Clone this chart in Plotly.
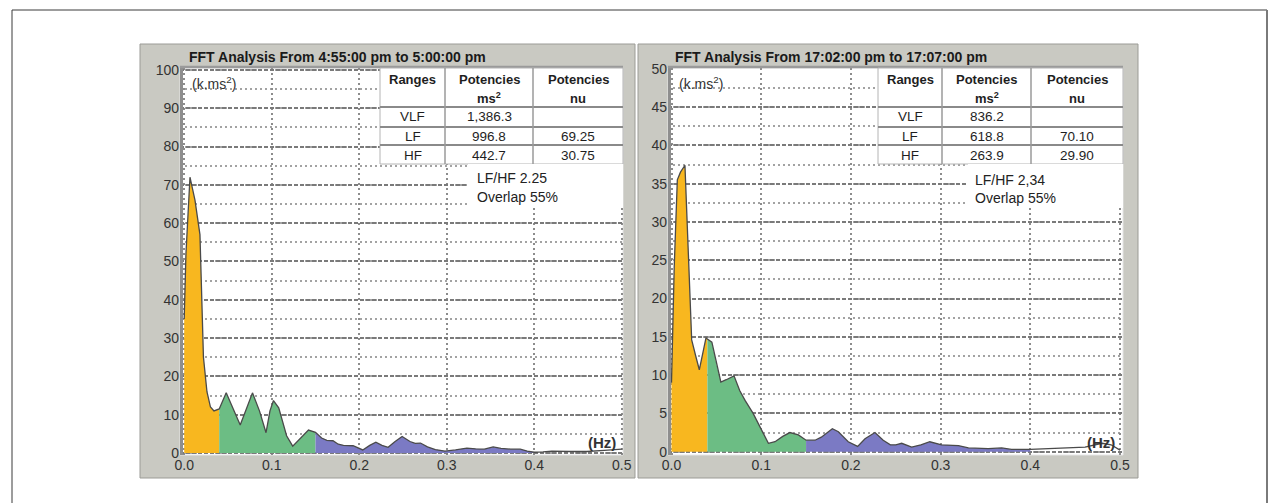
import plotly.graph_objects as go

# ---------------- data ----------------
# Left panel: 4:55:00 pm - 5:00:00 pm
freq_left = [0.000, 0.002, 0.0066, 0.0123, 0.018, 0.022, 0.026, 0.030, 0.034, 0.040,
             0.048, 0.056, 0.064, 0.071, 0.078, 0.086, 0.0935, 0.098, 0.102, 0.108,
             0.117, 0.124, 0.133, 0.142, 0.150,
             0.157, 0.163, 0.170, 0.176, 0.182, 0.193, 0.199, 0.204, 0.212, 0.219,
             0.226, 0.233, 0.241, 0.249, 0.258, 0.264, 0.270, 0.278, 0.287, 0.298,
             0.310, 0.323, 0.333, 0.343, 0.353, 0.362, 0.373, 0.384, 0.392, 0.400,
             0.410, 0.420, 0.440, 0.460, 0.480, 0.500]
power_left = [35.0, 52.0, 72.0, 66.0, 57.0, 25.0, 16.0, 12.0, 11.0, 11.5,
              15.7, 11.5, 7.3, 11.5, 15.7, 11.0, 5.3, 11.0, 13.7, 11.8,
              4.5, 1.8, 3.8, 6.0, 5.4,
              3.9, 3.3, 3.2, 2.3, 2.0, 1.9, 1.4, 0.8, 2.0, 2.8,
              2.0, 1.5, 3.0, 4.3, 3.0, 2.5, 2.6, 1.6, 0.9, 0.5,
              0.8, 1.3, 1.1, 1.0, 1.6, 1.2, 1.0, 1.0, 0.5, 0.2,
              0.3, 0.5, 0.4, 0.4, 0.7, 1.0]

# Right panel: 17:02:00 pm - 17:07:00 pm
freq_right = [0.000, 0.003, 0.0065, 0.010, 0.015, 0.0176, 0.0225, 0.027, 0.031, 0.0385, 0.040,
              0.045, 0.050, 0.055, 0.061, 0.0697, 0.076, 0.082, 0.091, 0.1005, 0.108,
              0.1154, 0.124, 0.132, 0.1414, 0.150,
              0.160, 0.167, 0.1793, 0.186, 0.197, 0.2075, 0.2157, 0.2268, 0.236, 0.244,
              0.250, 0.2566, 0.2677, 0.278, 0.288, 0.301, 0.3198, 0.331, 0.353, 0.368,
              0.379, 0.400,
              0.424, 0.461, 0.480, 0.490, 0.500]
power_right = [9.0, 24.0, 35.5, 36.5, 37.4, 29.0, 14.6, 12.5, 10.7, 14.9, 14.7,
               14.3, 11.5, 9.1, 9.4, 9.9, 8.0, 6.7, 5.0, 2.8, 1.1,
               1.3, 2.0, 2.5, 2.2, 1.5,
               1.5, 1.9, 3.0, 2.6, 1.3, 0.7, 1.7, 2.5, 1.5, 0.9,
               0.9, 1.1, 0.6, 0.9, 1.3, 0.9, 0.8, 0.5, 0.4, 0.5,
               0.3, 0.3,
               0.45, 0.6, 1.1, 0.9, 0.2]

band_edges = [0.0, 0.04, 0.15, 0.40]          # VLF | LF | HF
band_names = ["VLF", "LF", "HF"]
band_colors = ["#f8b71f", "#6cbd84", "#7b7ac4"]

titles = ["FFT Analysis From 4:55:00 pm to 5:00:00 pm",
          "FFT Analysis From 17:02:00 pm to 17:07:00 pm"]
ratio_texts = ["LF/HF 2.25", "LF/HF 2,34"]
overlap_text = "Overlap 55%"

table_header = [["Ranges", ""], ["Potencies", "ms<sup>2</sup>"], ["Potencies", "nu"]]
ranges = ["VLF", "LF", "HF"]
ms2_left = ["1,386.3", "996.8", "442.7"]
nu_left = ["", "69.25", "30.75"]
ms2_right = ["836.2", "618.8", "263.9"]
nu_right = ["", "70.10", "29.90"]

y_ticks_left = [0, 10, 20, 30, 40, 50, 60, 70, 80, 90, 100]
y_ticks_right = [0, 5, 10, 15, 20, 25, 30, 35, 40, 45, 50]
x_ticks = [0.0, 0.1, 0.2, 0.3, 0.4, 0.5]

# ---------------- layout helpers ----------------
W, H = 1269, 503
FONT = "Liberation Sans, Arial, sans-serif"


def px(x):
    return x / W


def py(y):
    return 1 - y / H


fig = go.Figure()

panels = [
    dict(freq=freq_left, power=power_left, xa="x", ya="y",
         plot=(180, 68, 623, 455), frame=(140, 44, 635, 478),
         xr=[-0.0048, 0.5014], yr=[-0.52, 100.5], ydt=10,
         yticks=y_ticks_left, title_x=187,
         tcols=[380, 445, 533, 623], ms2=ms2_left, nu=nu_left,
         ratio_x=475, ratio_y=(178, 197), wbox=(468, 164, 623, 208),
         unit_x=190, hz_x=618),
    dict(freq=freq_right, power=power_right, xa="x2", ya="y2",
         plot=(668, 68, 1123, 455), frame=(638, 44, 1138, 478),
         xr=[-0.0039, 0.5033], yr=[-0.43, 50.1], ydt=5,
         yticks=y_ticks_right, title_x=673,
         tcols=[878, 942, 1031, 1123], ms2=ms2_right, nu=nu_right,
         ratio_x=973, ratio_y=(180, 198), wbox=(968, 164, 1123, 208),
         unit_x=677, hz_x=1117),
]
trow = [68, 107, 127, 145, 164]

shapes = []
annotations = []

# outer frame
shapes.append(dict(type="line", xref="paper", yref="paper", x0=px(12), x1=px(1267),
                   y0=py(10), y1=py(10), line=dict(color="#3a3a3a", width=1), layer="below"))
shapes.append(dict(type="line", xref="paper", yref="paper", x0=px(12), x1=px(12),
                   y0=py(10), y1=0, line=dict(color="#3a3a3a", width=1), layer="below"))
shapes.append(dict(type="line", xref="paper", yref="paper", x0=px(1267), x1=px(1267),
                   y0=py(10), y1=0, line=dict(color="#7a7a7a", width=2), layer="below"))

for i, p in enumerate(panels):
    fr = p["frame"]
    pl = p["plot"]
    # gray panel
    shapes.append(dict(type="rect", xref="paper", yref="paper",
                       x0=px(fr[0]), x1=px(fr[2]), y0=py(fr[3]), y1=py(fr[1]),
                       fillcolor="#c9c9c2", line=dict(color="#9b9b96", width=1), layer="below"))
    # white plot area
    shapes.append(dict(type="rect", xref="paper", yref="paper",
                       x0=px(pl[0]), x1=px(pl[2]), y0=py(pl[3]), y1=py(pl[1]),
                       fillcolor="white", line=dict(color="#e6e6e6", width=1), layer="below"))
    # darker inner border left and top
    shapes.append(dict(type="line", xref="paper", yref="paper",
                       x0=px(pl[0] + 1.5), x1=px(pl[0] + 1.5), y0=py(pl[3]), y1=py(pl[1] - 2),
                       line=dict(color="#8e8e8e", width=3), layer="above"))
    shapes.append(dict(type="line", xref="paper", yref="paper",
                       x0=px(pl[0]), x1=px(pl[2]), y0=py(pl[1] - 1), y1=py(pl[1] - 1),
                       line=dict(color="#9a9a9a", width=2.5), layer="above"))

    # data: band fills + outline
    f = p["freq"]
    v = p["power"]
    for b in range(3):
        lo, hi = band_edges[b], band_edges[b + 1]
        bx = [fx for fx in f if lo <= fx <= hi]
        by = [vy for fx, vy in zip(f, v) if lo <= fx <= hi]
        fig.add_trace(go.Scatter(x=bx, y=by, mode="lines", fill="tozeroy",
                                 fillcolor=band_colors[b], line=dict(width=0),
                                 name=band_names[b], showlegend=False,
                                 xaxis=p["xa"], yaxis=p["ya"], hoverinfo="skip"))
    fig.add_trace(go.Scatter(x=f, y=v, mode="lines",
                             line=dict(color="#4a4a4a", width=1.3),
                             showlegend=False, xaxis=p["xa"], yaxis=p["ya"]))

    # table
    tc = p["tcols"]
    shapes.append(dict(type="rect", xref="paper", yref="paper",
                       x0=px(tc[0]), x1=px(tc[3]), y0=py(trow[4]), y1=py(trow[0]),
                       fillcolor="white", line=dict(color="#b4b4b4", width=1), layer="above"))
    for r in trow[1:4]:
        shapes.append(dict(type="line", xref="paper", yref="paper",
                           x0=px(tc[0]), x1=px(tc[3]), y0=py(r), y1=py(r),
                           line=dict(color="#8a8a8a", width=2), layer="above"))
    for c in tc[1:3]:
        shapes.append(dict(type="line", xref="paper", yref="paper",
                           x0=px(c), x1=px(c), y0=py(trow[4]), y1=py(trow[0]),
                           line=dict(color="#9a9a9a", width=1.5), layer="above"))
    # white box behind ratio text
    wb = p["wbox"]
    shapes.append(dict(type="rect", xref="paper", yref="paper",
                       x0=px(wb[0]), x1=px(wb[2]), y0=py(wb[3]), y1=py(wb[1]),
                       fillcolor="white", line=dict(width=0), layer="above"))

    ccent = [(tc[k] + tc[k + 1]) / 2 for k in range(3)]
    for k in range(3):
        h1, h2 = table_header[k]
        annotations.append(dict(text="<b>%s</b>" % h1, x=px(ccent[k]), y=py(79),
                                xref="paper", yref="paper", showarrow=False,
                                xanchor="center", yanchor="middle",
                                font=dict(family=FONT, size=13, color="#1e1e1e")))
        if h2:
            annotations.append(dict(text="<b>%s</b>" % h2, x=px(ccent[k]), y=py(98),
                                    xref="paper", yref="paper", showarrow=False,
                                    xanchor="center", yanchor="middle",
                                    font=dict(family=FONT, size=13, color="#1e1e1e")))
    row_cy = [117, 136.5, 155]
    for r in range(3):
        for k, txt in enumerate([ranges[r], p["ms2"][r], p["nu"][r]]):
            if txt:
                annotations.append(dict(text=txt, x=px(ccent[k]), y=py(row_cy[r]),
                                        xref="paper", yref="paper", showarrow=False,
                                        xanchor="center", yanchor="middle",
                                        font=dict(family=FONT, size=13.5, color="#1e1e1e")))

    # title
    annotations.append(dict(text="<b>%s</b>" % titles[i], x=px(p["title_x"]), y=py(57),
                            xref="paper", yref="paper", showarrow=False,
                            xanchor="left", yanchor="middle",
                            font=dict(family=FONT, size=14, color="#1a1a1a")))
    # ratio / overlap
    annotations.append(dict(text=ratio_texts[i], x=px(p["ratio_x"]), y=py(p["ratio_y"][0]),
                            xref="paper", yref="paper", showarrow=False,
                            xanchor="left", yanchor="middle",
                            font=dict(family=FONT, size=14, color="#222222")))
    annotations.append(dict(text=overlap_text, x=px(p["ratio_x"]), y=py(p["ratio_y"][1]),
                            xref="paper", yref="paper", showarrow=False,
                            xanchor="left", yanchor="middle",
                            font=dict(family=FONT, size=14, color="#222222")))
    # unit labels
    annotations.append(dict(text="(k.ms<sup>2</sup>)", x=px(p["unit_x"]), y=py(83),
                            xref="paper", yref="paper", showarrow=False,
                            xanchor="left", yanchor="middle",
                            font=dict(family=FONT, size=14, color="#333333")))
    annotations.append(dict(text="<b>(Hz)</b>", x=px(p["hz_x"]), y=py(442),
                            xref="paper", yref="paper", showarrow=False,
                            xanchor="right", yanchor="middle",
                            font=dict(family=FONT, size=15, color="#333333")))

axis_common = dict(showline=False, zeroline=False, ticks="", fixedrange=True,
                   automargin=False)

layout_axes = {}
for i, p in enumerate(panels):
    pl = p["plot"]
    xname = "xaxis" if i == 0 else "xaxis2"
    yname = "yaxis" if i == 0 else "yaxis2"
    layout_axes[xname] = dict(
        domain=[px(pl[0]), px(pl[2])], range=p["xr"], anchor=p["ya"],
        tickvals=x_ticks, ticktext=["%.1f" % t for t in x_ticks],
        showgrid=True, gridcolor="#8c8c8c", griddash="2px,3px", gridwidth=1.5,
        tickfont=dict(family=FONT, size=14, color="#333333"), **axis_common)
    layout_axes[yname] = dict(
        domain=[py(pl[3]), py(pl[1])], range=p["yr"], anchor=p["xa"],
        tickvals=p["yticks"], ticktext=[str(t) for t in p["yticks"]],
        showgrid=True, gridcolor="#7a7a7a", griddash="4px,2px", gridwidth=1.5,
        minor=dict(dtick=p["ydt"] / 2, tick0=0, showgrid=True, gridcolor="#a3a3a3",
                   griddash="2px,3px", gridwidth=1.5, ticks=""),
        tickfont=dict(family=FONT, size=14, color="#333333"), **axis_common)

fig.update_layout(
    width=W, height=H, margin=dict(l=0, r=0, t=0, b=0, pad=0, autoexpand=False),
    paper_bgcolor="white", plot_bgcolor="rgba(0,0,0,0)",
    showlegend=False, shapes=shapes, annotations=annotations,
    **layout_axes)

fig.write_html("out.html", config={"displayModeBar": False},
               post_script="document.body.style.margin='0';"
                           "document.body.style.overflow='hidden';")
